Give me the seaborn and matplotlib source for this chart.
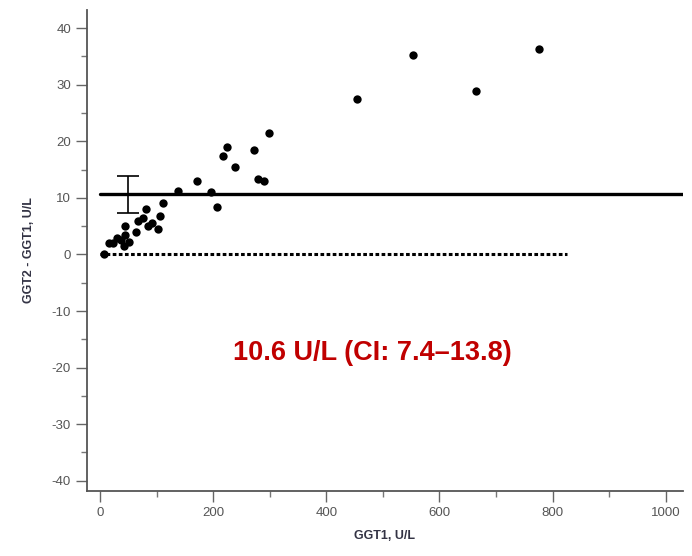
import pandas as pd
import matplotlib.pyplot as plt
import seaborn as sns
from matplotlib.ticker import MultipleLocator

# vrednosti ocitane sa slike
ggt1 = [7, 16, 23, 30, 37, 42, 44, 44, 51, 63, 67, 76, 81, 84, 92, 102, 106,
        112, 137, 171, 197, 206, 217, 224, 238, 273, 280, 290, 299,
        454, 553, 665, 776]
razlika = [0.1, 2.0, 2.0, 2.9, 2.6, 1.5, 3.4, 5.0, 2.2, 4.0, 5.9, 6.4, 8.0, 5.0,
           5.6, 4.5, 6.8, 9.1, 11.2, 13.0, 11.0, 8.4, 17.4, 19.0, 15.5, 18.5,
           13.3, 13.0, 21.5, 27.5, 35.2, 28.9, 36.3]

srednja = 10.6
ci_donja = 7.4
ci_gornja = 13.8
nula_do = 825

df = pd.DataFrame({"GGT1": ggt1, "Razlika": razlika})

sns.set_style("ticks")
plt.rcParams["font.family"] = ["Liberation Sans", "DejaVu Sans"]
plt.rcParams["axes.unicode_minus"] = False

fig = plt.figure(figsize=(6.92, 5.56), dpi=100)
ax = fig.add_axes([0.1257, 0.117, 0.861, 0.865])

# srednja razlika i nulta linija
ax.plot([0, 1030], [srednja, srednja], color="black", lw=2.4, zorder=2)
ax.plot([0, nula_do], [0, 0], color="black", lw=2.2, ls=(0, (1.2, 0.8)), zorder=2)

# interval poverenja
ax.errorbar([50], [srednja], yerr=[[srednja - ci_donja], [ci_gornja - srednja]],
            fmt="none", ecolor="black", elinewidth=1.2, capsize=8, capthick=1.2, zorder=3)

sns.scatterplot(data=df, x="GGT1", y="Razlika", ax=ax, color="black",
                s=36, edgecolor="black", linewidth=0, zorder=4)

ax.set_xlim(-23, 1030)
ax.set_ylim(-41.8, 43.2)
ax.xaxis.set_major_locator(MultipleLocator(200))
ax.xaxis.set_minor_locator(MultipleLocator(100))
ax.yaxis.set_major_locator(MultipleLocator(10))
ax.yaxis.set_minor_locator(MultipleLocator(5))

sns.despine(ax=ax)
for s in ["left", "bottom"]:
    ax.spines[s].set_color("#555555")
    ax.spines[s].set_linewidth(1.3)
ax.tick_params(which="major", length=8, width=1, color="#666666",
               labelsize=9.5, labelcolor="#555555")
ax.tick_params(which="minor", length=4, width=1, color="#777777")

ax.set_xlabel("GGT1, U/L", fontsize=9, fontweight="bold", color="#333344", labelpad=8)
ax.set_ylabel("GGT2 - GGT1, U/L", fontsize=9, fontweight="bold", color="#333344", labelpad=12)

ax.text(482, -17.4, "10.6 U/L (CI: 7.4\u201313.8)", color="#c00000", fontsize=19.5,
        fontweight="bold", ha="center", va="center")

plt.savefig("out.png", dpi=100)
plt.close()
